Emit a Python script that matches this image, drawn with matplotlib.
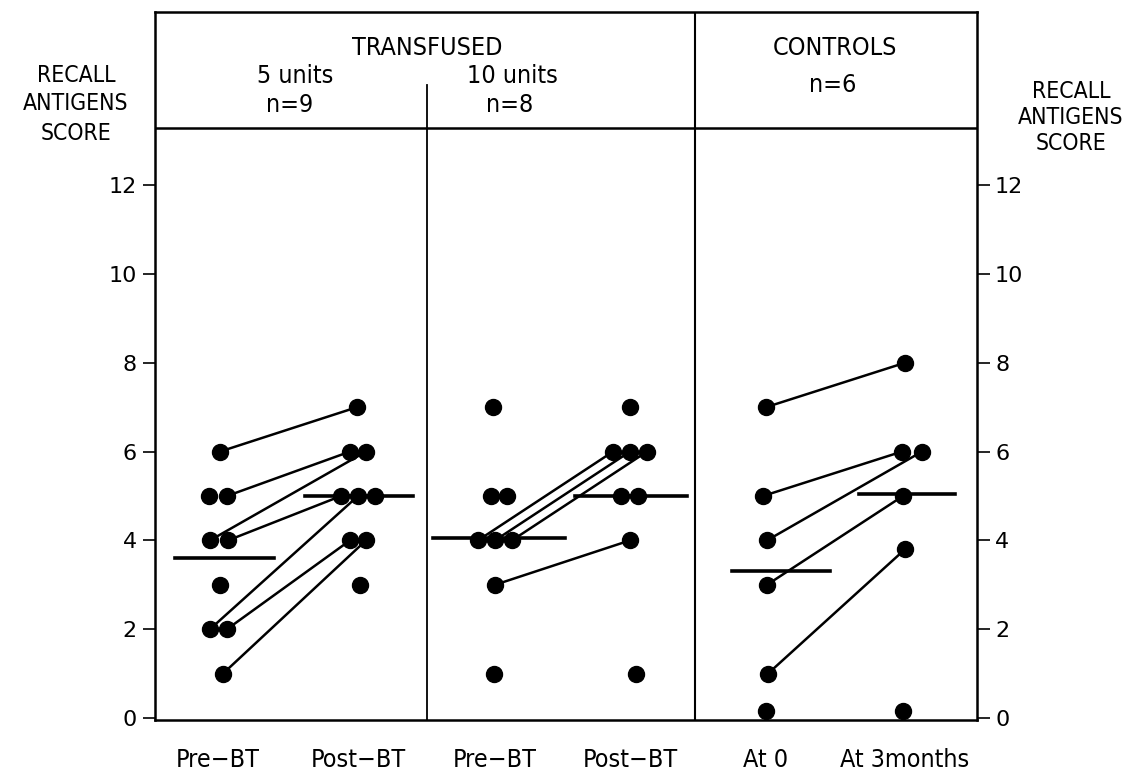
import matplotlib
matplotlib.use("Agg")
import matplotlib.pyplot as plt

# scores, one list per column
pre_5 = [6, 5, 5, 4, 4, 3, 2, 2, 1]
post_5 = [7, 6, 6, 5, 5, 5, 4, 4, 3]
links_5 = [(0, 0), (2, 1), (3, 2), (4, 3), (6, 4), (7, 6), (8, 7)]

pre_10 = [7, 5, 5, 4, 4, 4, 3, 1]
post_10 = [7, 6, 6, 6, 5, 5, 4, 1]
links_10 = [(3, 1), (4, 2), (5, 3), (6, 6)]

pre_ctrl = [7, 5, 4, 3, 1, 0.15]
post_ctrl = [8, 6, 6, 5, 3.8, 0.15]
links_ctrl = [(0, 0), (1, 1), (2, 2), (3, 3), (4, 4)]

# group means as drawn (pre, post) per panel
means = [(3.6, 5.0), (4.05, 5.0), (3.3, 5.05)]

x_labels = ["Pre\u2212BT", "Post\u2212BT", "Pre\u2212BT", "Post\u2212BT", "At 0", "At 3months"]
header_top = ["TRANSFUSED", "CONTROLS"]
header_sub = [("5 units", "n=9"), ("10 units", "n=8"), ("", "n=6")]

# layout (x in axis units, 0..822 across the box)
centers = [(63, 203), (340, 475), (611, 750)]
pre_off = [
    [2, -9, 9, -8, 10, 2, -8, 9, 5],
    [-2, -4, 12, -17, 0, 17, 0, -1],
    [0, -3, 1, 1, 2, 0],
]
post_off = [
    [-1, -8, 8, -17, 0, 17, -8, 8, 2],
    [0, -17, 0, 17, -9, 8, 0, 6],
    [0, -3, 17, -2, 0, -2],
]
mean_span = [((-43, 56), (-53, 55)), ((-62, 70), (-55, 57)), ((-34, 64), (-46, 50))]

fig = plt.figure(figsize=(11.27, 7.78), dpi=100)
ax = fig.add_axes([155 / 1127, 58 / 778, 822 / 1127, 708 / 778])
ax.set_xlim(0, 822)
ax.set_ylim(-0.045, 15.9)

panels = [(pre_5, post_5, links_5), (pre_10, post_10, links_10), (pre_ctrl, post_ctrl, links_ctrl)]
for k, (pre, post, links) in enumerate(panels):
    cx0, cx1 = centers[k]
    xs0 = [cx0 + o for o in pre_off[k]]
    xs1 = [cx1 + o for o in post_off[k]]
    for i, j in links:
        ax.plot([xs0[i], xs1[j]], [pre[i], post[j]], color="black", lw=1.8, zorder=2)
    ax.plot(xs0, pre, "o", color="black", ms=11.5, zorder=3, clip_on=False)
    ax.plot(xs1, post, "o", color="black", ms=11.5, zorder=3, clip_on=False)
    (a0, b0), (a1, b1) = mean_span[k]
    ax.plot([cx0 + a0, cx0 + b0], [means[k][0]] * 2, color="black", lw=2.6, zorder=2)
    ax.plot([cx1 + a1, cx1 + b1], [means[k][1]] * 2, color="black", lw=2.6, zorder=2)

# header and panel dividers
ax.axhline(13.29, color="black", lw=1.8)
ax.plot([272, 272], [-0.045, 14.26], color="black", lw=1.3)
ax.axvline(540, color="black", lw=1.5)

for s in ax.spines.values():
    s.set_linewidth(1.8)

ax.set_yticks([0, 2, 4, 6, 8, 10, 12])
ax.tick_params(axis="y", direction="out", length=9, width=1.2, labelsize=16,
               right=True, labelright=True, pad=4)
ax.set_xticks([c for pair in centers for c in pair])
ax.set_xticklabels(x_labels, fontsize=18, fontstretch="condensed")
ax.tick_params(axis="x", length=0, pad=20)

tf = dict(ha="center", va="center", fontsize=18, fontstretch="condensed")
ax.text(272, 15.1, header_top[0], **tf)
ax.text(680, 15.1, header_top[1], **tf)
ax.text(140, 14.45, header_sub[0][0], **tf)
ax.text(135, 13.8, header_sub[0][1], **tf)
ax.text(357, 14.45, header_sub[1][0], **tf)
ax.text(355, 13.8, header_sub[1][1], **tf)
ax.text(678, 14.25, header_sub[2][1], **tf)

side = dict(ha="center", va="center", fontsize=16.5, fontstretch="condensed")
for i, w in enumerate(["RECALL", "ANTIGENS", "SCORE"]):
    fig.text(76 / 1127, 1 - (75 + 29 * i) / 778, w, **side)
    fig.text(1071 / 1127, 1 - (92 + 26 * i) / 778, w, **side)

fig.savefig("out.png", dpi=100)
